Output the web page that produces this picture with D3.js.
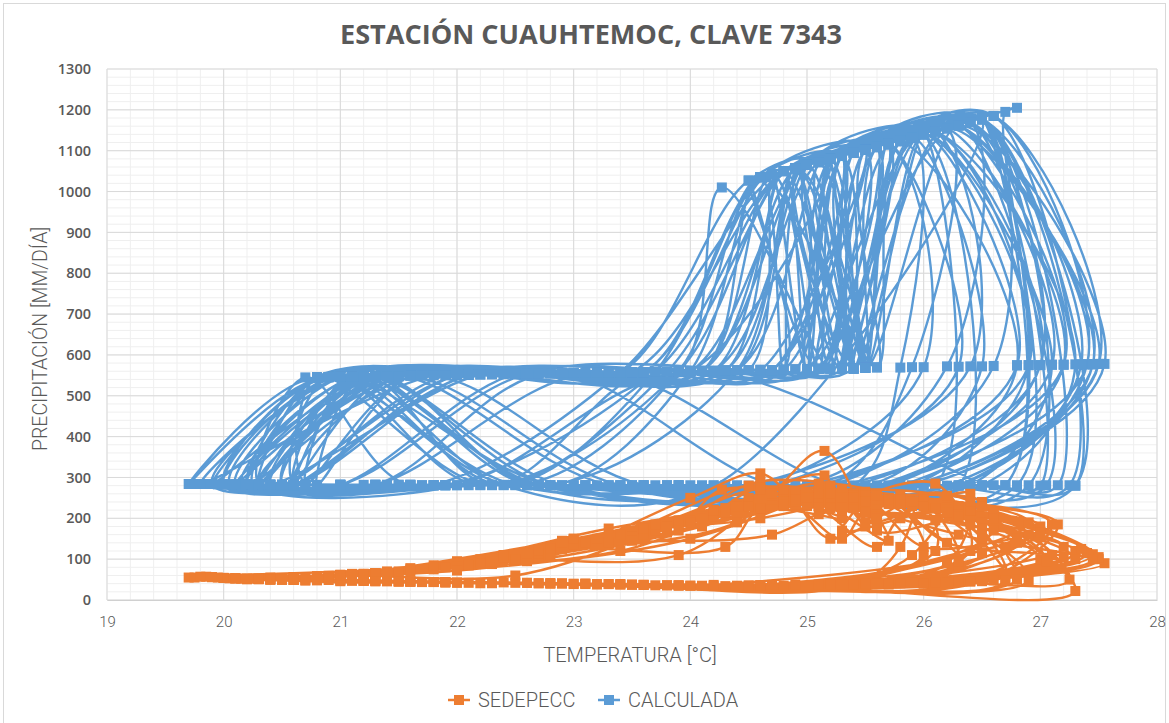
<!DOCTYPE html>
<html><head><meta charset="utf-8">
<script src="https://cdn.jsdelivr.net/npm/d3@7"></script>
<style>body{margin:0;background:#fff}svg{display:block}</style>
</head><body><svg id="c" width="1169" height="723"></svg>
<script>
// Monthly mean temperature [°C], 40 years x 12 months
const temperatura = [
20.5,21.6,23.4,25.6,27.1,26.2,25.3,25.4,25.0,24.1,22.6,21.0,
20.1,21.2,22.9,25.1,26.8,26.0,25.5,25.2,24.8,23.9,22.2,20.9,
19.7,20.8,22.5,24.8,27.3,26.5,25.6,25.7,25.1,24.3,23.0,21.4,
20.4,21.9,23.8,26.0,27.55,26.3,25.1,25.3,24.6,23.6,22.1,20.6,
20.0,21.4,23.1,25.4,25.8,25.9,25.2,24.9,24.6,24.0,22.8,21.1,
20.6,21.0,22.7,24.5,26.4,26.1,25.4,25.5,25.15,24.4,22.4,20.8,
20.2,21.7,23.6,26.3,27.4,26.6,25.8,25.6,24.9,23.4,21.8,20.3,
19.85,21.3,23.0,25.0,26.9,26.0,25.0,25.2,25.15,24.2,22.9,21.5,
20.3,22.0,24.0,26.6,27.0,26.4,25.5,25.3,24.7,23.3,22.0,20.9,
20.05,21.5,23.3,25.8,27.2,26.2,25.7,25.1,24.5,24.8,23.2,21.6,
20.7,21.1,22.4,24.2,26.5,25.8,25.1,25.4,24.9,23.8,22.3,21.2,
20.15,21.8,23.7,26.2,27.45,26.5,25.6,25.5,24.8,24.0,22.5,21.0,
20.4,21.6,23.5,25.3,26.3,26.0,25.3,25.0,24.7,24.5,23.1,21.3,
19.9,20.9,22.8,25.7,27.0,26.4,25.4,25.6,25.0,23.5,21.9,20.5,
20.2,22.2,24.3,26.8,26.7,26.8,25.7,25.4,24.9,24.1,22.7,21.1,
20.5,21.4,22.6,24.6,26.0,25.7,25.0,25.2,24.27,23.9,22.2,20.8,
20.0,21.5,23.2,25.5,27.05,26.3,25.5,25.3,24.8,23.7,21.6,20.7,
20.3,21.7,23.9,26.5,27.3,26.1,25.2,25.5,24.6,24.3,22.9,21.4,
20.6,21.2,22.9,25.2,26.6,26.5,25.6,25.0,25.3,24.6,22.6,21.0,
19.75,21.0,23.4,25.9,27.5,26.2,25.4,25.7,25.1,24.2,22.4,21.2,
20.4,21.9,24.1,26.9,26.5,25.9,25.3,25.1,24.7,23.6,22.0,20.6,
20.1,21.3,22.8,24.9,26.2,26.4,25.5,25.3,24.9,24.4,22.7,21.3,
20.5,21.8,23.6,26.1,27.25,26.6,25.8,25.4,24.5,23.8,22.3,20.9,
20.25,21.6,23.1,25.6,27.4,26.3,25.2,25.6,25.0,24.0,23.0,21.5,
20.6,22.1,23.9,26.4,27.1,26.0,25.3,25.5,24.8,23.5,22.1,20.8,
20.3,21.4,23.3,25.9,26.9,26.1,25.0,24.8,24.6,23.7,22.4,21.0,
20.0,21.9,23.9,26.4,27.3,26.5,25.4,25.2,24.9,24.2,22.9,21.6,
20.8,21.2,22.6,24.7,26.3,25.7,25.5,25.1,24.5,23.4,22.2,20.4,
19.95,21.0,23.0,25.3,27.2,26.3,25.9,25.3,24.7,24.1,22.7,21.3,
20.5,22.3,24.4,26.7,26.5,26.2,25.2,25.4,24.8,24.3,23.0,21.1,
20.2,21.3,23.2,25.5,26.5,25.9,25.3,25.6,24.6,23.9,22.5,20.9,
20.6,21.7,23.6,26.0,27.5,26.6,25.7,25.3,24.9,24.5,23.3,21.8,
19.8,21.1,22.7,24.6,26.1,26.0,25.4,24.9,25.2,24.0,22.0,20.5,
20.4,21.8,23.8,26.3,27.35,26.4,25.6,25.5,25.0,24.3,22.8,21.2,
20.1,21.5,23.4,25.7,26.8,25.8,25.1,25.3,24.7,23.6,22.3,20.8,
20.7,22.0,24.0,26.5,27.15,26.5,25.5,25.6,24.6,24.1,22.6,21.4,
20.3,21.2,22.8,25.2,25.9,26.2,25.2,25.0,24.8,24.2,22.9,21.0,
19.9,21.6,23.5,25.9,27.45,26.3,25.8,25.4,25.1,23.9,22.1,20.6,
20.5,21.9,24.2,26.7,26.5,26.4,25.6,25.2,24.9,24.4,22.8,21.3,
20.2,21.3,23.1,25.4,27.0,26.1,25.3,25.5,24.7,23.8,22.5,20.9
];
// Observed precipitation (SEDEPECC)
const sedepecc = [
52,45,38,42,110,215,170,225,260,180,95,60,
53,48,40,38,150,130,250,235,265,110,100,58,
55,50,42,35,22,200,230,145,235,210,150,65,
50,43,36,40,90,160,260,250,200,170,85,56,
54,47,40,37,130,240,150,240,310,250,110,62,
49,46,41,36,120,285,230,180,365,190,110,57,
51,44,37,45,115,210,200,130,250,120,75,52,
57,48,39,34,190,250,240,255,305,220,130,70,
52,42,35,48,100,185,215,235,160,140,95,59,
53,46,39,41,105,140,245,230,250,230,150,75,
48,47,43,37,140,255,210,250,230,165,88,64,
52,44,36,43,112,205,170,255,245,195,60,61,
50,45,38,40,85,235,225,240,250,240,140,66,
56,49,40,38,180,220,260,190,255,155,80,54,
51,41,34,50,125,150,250,260,235,200,105,63,
50,46,42,36,110,250,230,245,270,185,95,58,
54,45,38,39,95,230,215,150,240,170,70,55,
51,44,36,47,120,195,235,265,225,130,125,67,
49,47,41,37,170,240,255,240,200,225,98,60,
55,48,39,42,100,245,225,240,250,205,105,63,
50,43,35,49,160,230,245,230,245,160,82,56,
53,46,41,38,90,260,190,245,240,235,115,65,
50,44,37,44,50,215,235,255,230,175,90,59,
52,45,39,40,115,220,250,200,235,190,135,68,
49,42,35,46,185,245,225,250,230,145,85,57,
51,46,39,42,160,225,255,240,270,185,110,62,
54,44,36,45,100,190,230,275,255,210,145,78,
48,47,42,37,95,235,260,250,280,160,90,55,
55,48,40,38,130,210,240,220,260,205,120,66,
50,41,35,47,175,250,265,245,235,225,150,64,
52,47,39,40,115,240,230,260,290,195,100,58,
49,44,37,41,105,200,245,250,240,230,175,85,
57,48,41,36,120,230,250,265,280,150,72,53,
51,44,36,45,125,220,235,255,265,215,130,64,
53,45,38,40,140,245,260,270,255,175,95,57,
48,43,35,46,185,230,240,245,275,200,115,70,
52,47,41,38,110,255,225,250,270,220,140,61,
56,45,37,42,100,205,235,250,285,170,88,55,
50,44,34,48,150,240,255,260,245,230,125,66,
52,46,40,39,165,225,250,240,260,180,100,59
];
// Calculated precipitation (CALCULADA)
const calculada = [
282,281,281,280,576,1155,1087,567,1065,561,554,546,
283,282,281,280,575,1140,569,1080,1050,560,282,546,
284,545,281,280,280,1180,1108,1115,566,562,556,548,
282,281,281,280,578,1162,566,1087,1035,558,551,281,
283,282,281,280,569,1132,1080,1057,1035,560,281,547,
282,282,281,280,572,1147,1095,569,1076,563,553,545,
283,549,281,280,577,1185,1123,570,1057,557,281,281,
284,282,281,280,575,1140,565,1080,566,561,556,548,
283,281,560,281,280,1170,1102,1087,563,557,550,546,
283,282,281,280,576,1155,1115,566,1027,564,556,549,
282,546,281,280,1177,1125,1072,567,1057,559,282,547,
283,281,281,280,577,1177,1110,1102,564,560,554,282,
282,282,281,280,280,1140,1087,565,1042,563,556,548,
284,545,281,280,575,1170,1095,1110,565,558,550,281,
283,281,281,281,1195,1205,1118,1095,1057,561,555,547,
282,282,281,280,570,1117,1065,566,1010,560,552,545,
283,282,281,280,281,1162,568,1087,1050,559,281,545,
283,281,281,281,577,1147,1080,1102,563,562,556,548,
282,547,281,280,573,1177,1110,1065,567,564,554,282,
284,282,281,280,578,1155,567,1117,1072,561,553,547,
282,281,281,281,1180,1132,1087,566,1042,558,551,281,
283,282,555,280,572,1170,1102,567,1057,563,282,548,
282,281,281,280,281,1185,1123,567,563,559,552,546,
283,282,281,280,577,1162,1080,1110,1065,560,556,548,
282,281,281,281,576,1140,566,1102,1050,558,551,545,
283,548,281,280,575,1147,1065,564,1035,559,282,546,
283,281,281,281,280,1177,1095,1080,565,561,556,549,
282,547,281,280,571,1117,568,1072,1027,557,552,282,
283,282,281,280,576,1162,1132,567,1042,561,555,548,
282,281,281,281,1177,1155,1080,566,1050,562,556,547,
283,282,557,280,572,1132,566,1110,1035,560,282,546,
282,281,281,280,578,1185,1117,1087,565,563,557,550,
284,546,281,280,281,1140,567,1057,1080,560,551,281,
283,281,281,281,577,1170,1110,568,1065,562,555,547,
283,548,281,280,574,1125,1072,1087,563,558,282,545,
282,281,281,281,281,1177,1102,569,1035,561,554,548,
283,547,281,280,570,1155,1080,565,1050,561,556,546,
284,282,281,280,577,1162,1125,1095,566,560,551,282,
282,281,281,281,1177,1170,1110,567,1057,563,555,548,
283,282,281,280,575,1147,1087,1102,563,559,554,546
];
const xTickValues = [19,20,21,22,23,24,25,26,27,28];
const yTickValues = [0,100,200,300,400,500,600,700,800,900,1000,1100,1200,1300];
const seriesNames = ["SEDEPECC","CALCULADA"];
const seriesColors = ["#ED7D31","#5B9BD5"];
const titleText = "ESTACIÓN CUAUHTEMOC, CLAVE 7343";
const xTitle = "TEMPERATURA [°C]";
const yTitle = "PRECIPITACIÓN [MM/DÍA]";

const W = 1169, H = 723;
const P = {left:107, right:1157, top:69, bottom:600};
const svg = d3.select("#c");
const x = d3.scaleLinear().domain([19,28]).range([P.left,P.right]);
const y = d3.scaleLinear().domain([0,1300]).range([P.bottom,P.top]);

svg.append("rect").attr("x",3.5).attr("y",3.5).attr("width",W-7).attr("height",H+20)
  .attr("fill","#fff").attr("stroke","#d9d9d9");

// gridlines
const grid = svg.append("g");
grid.selectAll("line.mx").data(x.ticks(45)).join("line")
  .attr("x1",d=>x(d)).attr("x2",d=>x(d)).attr("y1",P.top).attr("y2",P.bottom)
  .attr("stroke","#efefef").attr("stroke-width",1);
grid.selectAll("line.my").data(y.ticks(65)).join("line")
  .attr("y1",d=>y(d)).attr("y2",d=>y(d)).attr("x1",P.left).attr("x2",P.right)
  .attr("stroke","#efefef").attr("stroke-width",1);
grid.selectAll("line.Mx").data(xTickValues).join("line")
  .attr("x1",d=>x(d)).attr("x2",d=>x(d)).attr("y1",P.top).attr("y2",P.bottom)
  .attr("stroke","#d9d9d9").attr("stroke-width",1);
grid.selectAll("line.My").data(yTickValues).join("line")
  .attr("y1",d=>y(d)).attr("y2",d=>y(d)).attr("x1",P.left).attr("x2",P.right)
  .attr("stroke","#d9d9d9").attr("stroke-width",1);

// axes
const xa = svg.append("g").attr("transform",`translate(0,${P.bottom})`)
  .call(d3.axisBottom(x).tickValues(xTickValues).tickSize(0).tickPadding(16).tickFormat(d3.format("d")));
xa.select(".domain").attr("stroke","#d0d0d0");
xa.selectAll("text").attr("font-family","Roboto, sans-serif").attr("font-size",15).attr("font-weight",300).attr("fill","#595959");
const ya = svg.append("g").attr("transform",`translate(${P.left},0)`)
  .call(d3.axisLeft(y).tickValues(yTickValues).tickSize(0).tickPadding(16).tickFormat(d3.format("d")));
ya.select(".domain").remove();
ya.selectAll("text").attr("font-family","'Open Sans', sans-serif").attr("font-size",14.5).attr("font-weight",600).attr("fill","#595959");

// titles
svg.append("text").attr("x",591).attr("y",44).attr("text-anchor","middle")
  .attr("font-family","'Open Sans', sans-serif").attr("font-weight",700).attr("font-size",26)
  .attr("fill","#595959").attr("textLength",502).attr("lengthAdjust","spacingAndGlyphs").text(titleText);
svg.append("text").attr("x",630).attr("y",662).attr("text-anchor","middle")
  .attr("font-family","Roboto, sans-serif").attr("font-weight",300).attr("font-size",20)
  .attr("fill","#595959").text(xTitle);
svg.append("text").attr("transform","translate(47,339) rotate(-90)").attr("text-anchor","middle")
  .attr("font-family","Roboto, sans-serif").attr("font-weight",300).attr("font-size",19.5)
  .attr("fill","#595959").text(yTitle);

// series
svg.append("clipPath").attr("id","pc").append("rect")
  .attr("x",P.left-8).attr("y",P.top-2).attr("width",P.right-P.left+16).attr("height",P.bottom-P.top+10);
const plot = svg.append("g").attr("clip-path","url(#pc)");
const pts = (vals) => temperatura.map((t,i)=>[t,vals[i]]);
const line = d3.line().x(d=>x(d[0])).y(d=>y(d[1])).curve(d3.curveCatmullRom.alpha(0.5));
const MS = 10;
[[calculada,1],[sedepecc,0]].forEach(([vals,k])=>{
  const data = pts(vals);
  const gS = plot.append("g");
  gS.append("path").datum(data).attr("d",line).attr("fill","none")
    .attr("stroke",seriesColors[k]).attr("stroke-width",2.4).attr("stroke-linejoin","round");
  gS.selectAll("rect").data(data).join("rect")
    .attr("x",d=>x(d[0])-MS/2).attr("y",d=>y(d[1])-MS/2).attr("width",MS).attr("height",MS)
    .attr("fill",seriesColors[k]);
});

// legend
const leg = svg.append("g");
const legItems = [{k:0,x0:448,tx:478},{k:1,x0:598,tx:628}];
legItems.forEach(it=>{
  leg.append("line").attr("x1",it.x0).attr("x2",it.x0+22).attr("y1",700).attr("y2",700)
    .attr("stroke",seriesColors[it.k]).attr("stroke-width",2.5);
  leg.append("rect").attr("x",it.x0+11-MS/2).attr("y",700-MS/2).attr("width",MS).attr("height",MS)
    .attr("fill",seriesColors[it.k]);
  leg.append("text").attr("x",it.tx).attr("y",707).attr("font-family","Roboto, sans-serif")
    .attr("font-weight",300).attr("font-size",20).attr("fill","#595959").text(seriesNames[it.k]);
});
</script></body></html>
